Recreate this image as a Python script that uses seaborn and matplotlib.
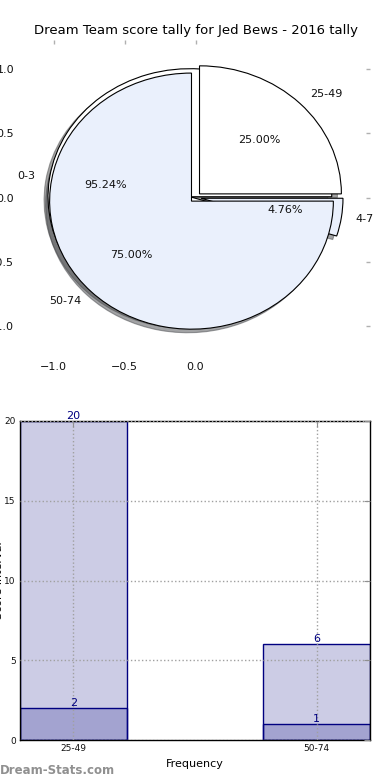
import matplotlib
matplotlib.use('Agg')
import matplotlib.pyplot as plt
import seaborn as sns
import pandas as pd

# -------------------------
# Data
# -------------------------
title = "Dream Team score tally for Jed Bews - 2016 tally"

pie_a_labels = ['25-49', '50-74']
pie_a_values = [2, 6]
pie_b_labels = ['0-3', '4-7']
pie_b_values = [20, 1]

bar_labels = ['25-49', '50-74']
bar_totals = [20, 6]
bar_inner = [2, 1]

pie_x_ticks = [-1.0, -0.5, 0.0]
pie_y_ticks = [-1.0, -0.5, 0.0, 0.5, 1.0]
bar_y_ticks = [0, 5, 10, 15, 20]

# -------------------------
# Style
# -------------------------
sns.set_style('white')
plt.rcParams['font.family'] = ['DejaVu Sans']

fig = plt.figure(figsize=(3.9, 7.8), dpi=100)
ax1 = fig.add_axes([21 / 390, 1 - 355 / 780, 349 / 390, 315 / 780])
ax2 = fig.add_axes([20 / 390, 1 - 740 / 780, 350 / 390, 319 / 780])

# -------------------------
# Pie (two overlaid pies)
# -------------------------
pie_colors = ['white', '#eaf0fc']
for labels, values in [(pie_b_labels, pie_b_values), (pie_a_labels, pie_a_values)]:
    ax1.pie(values, labels=labels, colors=pie_colors, explode=[0.04] * len(values),
            autopct='%.2f%%', shadow=True, startangle=0, frame=True,
            wedgeprops=dict(edgecolor='black', linewidth=0.8),
            textprops=dict(fontsize=8, color='#111111'))

ax1.set_aspect('auto')
ax1.set_xlim(-1.23, 1.23)
ax1.set_ylim(-1.23, 1.23)
ax1.set_xticks(pie_x_ticks)
ax1.set_yticks(pie_y_ticks)
for s in ax1.spines.values():
    s.set_visible(False)
ax1.tick_params(direction='in', length=3, width=1, color='#b0b0b0', top=True, right=True,
                labelsize=8, labelcolor='#111111', pad=5)
ax1.set_title(title, fontsize=9.5, pad=4, color='black')

# -------------------------
# Bars (two overlaid bar sets)
# -------------------------
df = pd.DataFrame({'interval': bar_labels, 'total': bar_totals, 'inner': bar_inner})
for col in ['total', 'inner']:
    sns.barplot(data=df, x='interval', y=col, ax=ax2, color='navy', saturation=1,
                width=0.44, edgecolor='navy', linewidth=1, errorbar=None)
for p in ax2.patches:
    p.set_facecolor((0, 0, 0.5, 0.2))
    p.set_edgecolor('navy')

for vals in [bar_totals, bar_inner]:
    for i, v in enumerate(vals):
        ax2.text(i, v, str(v), ha='center', va='bottom', color='navy', fontsize=8)

ax2.set_xlim(-0.22, 1.22)
ax2.set_ylim(0, 20)
ax2.set_yticks(bar_y_ticks)
ax2.set_axisbelow(False)
ax2.grid(True, linestyle=':', color='#a0a0a0', linewidth=1)
for s in ax2.spines.values():
    s.set_visible(True)
    s.set_color('black')
    s.set_linewidth(1)
ax2.tick_params(direction='in', length=4, color='#909090', top=True, right=True,
                labelsize=6.5, labelcolor='#111111', pad=3)
ax2.set_xlabel('Frequency', fontsize=8, labelpad=4, color='black')
ax2.set_ylabel('Score Interval', fontsize=8, color='black')
ax2.yaxis.set_label_coords(-0.046, 0.5)

fig.text(0.0, 10 / 780, 'Dream-Stats.com', color='#909090', fontsize=8.5,
         fontweight='bold', ha='left', va='center')

plt.savefig('out.png', dpi=100)
plt.close()
